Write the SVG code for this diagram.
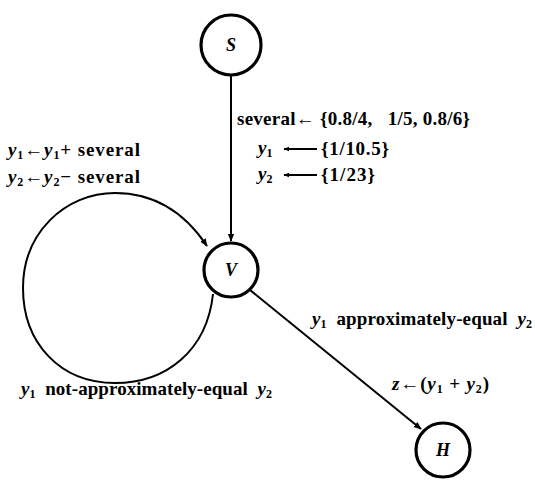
<svg xmlns="http://www.w3.org/2000/svg" width="535" height="480" viewBox="0 0 535 480">
<style>
.node{fill:#fff;stroke:#000;stroke-width:3.2}
.lbl{font-family:"Liberation Serif",serif;font-style:italic;font-size:18px;font-weight:bold}
.t{font-family:"Liberation Serif",serif;font-size:19px;font-weight:bold;fill:#000;white-space:pre}
.v{font-style:italic}
.s{font-size:12px}
.edge{fill:none;stroke:#000;stroke-width:2}
</style>
<defs>
<marker id="ah" viewBox="0 0 10 10" refX="9" refY="5" markerWidth="8" markerHeight="8" markerUnits="userSpaceOnUse" orient="auto">
<path d="M0,1 L10,5 L0,9 Z" fill="#000"/>
</marker>
<marker id="ah2" viewBox="0 0 10 10" refX="1" refY="5" markerWidth="6" markerHeight="6" markerUnits="userSpaceOnUse" orient="auto">
<path d="M10,1 L0,5 L10,9 Z" fill="#000"/>
</marker>
</defs>
<g id="connectors">
<line class="edge" x1="231" y1="75" x2="231" y2="241" marker-end="url(#ah)"/>
<line class="edge" x1="250" y1="290" x2="421" y2="429" marker-end="url(#ah)"/>
<path class="edge" d="M213,294 C207,350 167,383 115,383 C60,383 23,343 23,288 C23,233 65,193 115,193 C155,193 185,213 207,246" marker-end="url(#ah)"/>
</g>
<g id="node-S">
<circle class="node" cx="231" cy="45" r="30"/>
<text class="lbl" x="231" y="51" text-anchor="middle">S</text>
</g>
<g id="node-V">
<circle class="node" cx="231" cy="270" r="27"/>
<text class="lbl" x="231" y="276" text-anchor="middle">V</text>
</g>
<g id="node-H">
<circle class="node" cx="443" cy="450" r="27"/>
<text class="lbl" x="443" y="456" text-anchor="middle">H</text>
</g>
<g id="labels">
<text class="t" x="237" y="125" textLength="233" lengthAdjust="spacing">several← {0.8/4,   1/5, 0.8/6}</text>
<text class="t" x="258" y="154"><tspan class="v">y</tspan><tspan class="s" dy="3">1</tspan></text>
<line class="edge" x1="284" y1="149" x2="317" y2="149" stroke-width="1.5" marker-start="url(#ah2)"/>
<text class="t" x="321" y="155" textLength="68" lengthAdjust="spacing">{1/10.5}</text>
<text class="t" x="258" y="180"><tspan class="v">y</tspan><tspan class="s" dy="3">2</tspan></text>
<line class="edge" x1="284" y1="175" x2="317" y2="175" stroke-width="1.5" marker-start="url(#ah2)"/>
<text class="t" x="321" y="181" textLength="54" lengthAdjust="spacing">{1/23}</text>
<text class="t" x="8" y="156" textLength="132" lengthAdjust="spacing"><tspan class="v">y</tspan><tspan class="s" dy="3">1</tspan><tspan dy="-3">←</tspan><tspan class="v">y</tspan><tspan class="s" dy="3">1</tspan><tspan dy="-3">+ several</tspan></text>
<text class="t" x="8" y="183" textLength="132" lengthAdjust="spacing"><tspan class="v">y</tspan><tspan class="s" dy="3">2</tspan><tspan dy="-3">←</tspan><tspan class="v">y</tspan><tspan class="s" dy="3">2</tspan><tspan dy="-3">− several</tspan></text>
<text class="t" x="312" y="325" textLength="220" lengthAdjust="spacing"><tspan class="v">y</tspan><tspan class="s" dy="3">1</tspan><tspan dy="-3">  approximately-equal  </tspan><tspan class="v">y</tspan><tspan class="s" dy="3">2</tspan></text>
<text class="t" x="21" y="395" textLength="251" lengthAdjust="spacing"><tspan class="v">y</tspan><tspan class="s" dy="3">1</tspan><tspan dy="-3">  not-approximately-equal  </tspan><tspan class="v">y</tspan><tspan class="s" dy="3">2</tspan></text>
<text class="t" x="392" y="390" textLength="97" lengthAdjust="spacing"><tspan class="v">z</tspan><tspan>←(</tspan><tspan class="v">y</tspan><tspan class="s" dy="3">1</tspan><tspan dy="-3"> + </tspan><tspan class="v">y</tspan><tspan class="s" dy="3">2</tspan><tspan dy="-3">)</tspan></text>
</g>
</svg>
